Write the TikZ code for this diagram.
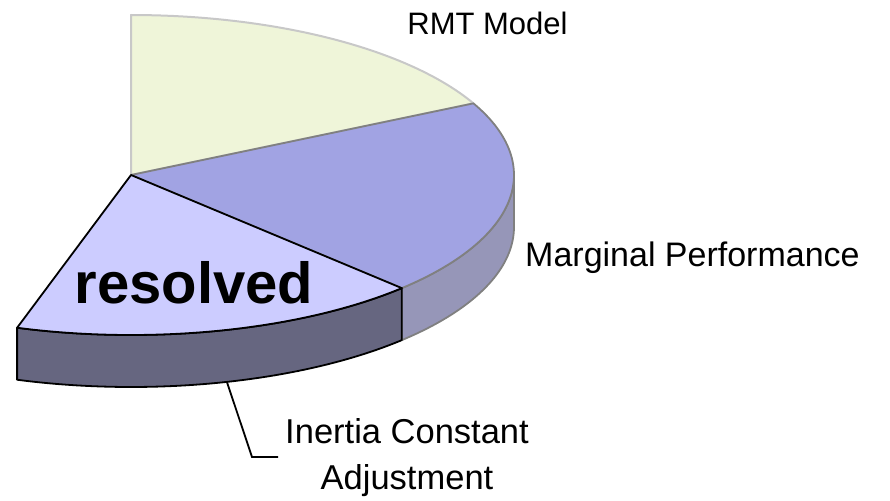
\documentclass[tikz,border=0pt]{standalone}
\usepackage{fontspec}
\setmainfont{Liberation Sans}
\begin{document}
\begin{tikzpicture}[x=1pt,y=-1pt,
  lbl/.style={inner sep=0pt, font=\fontsize{32}{46}\selectfont},
  rmtcol/.style={fill={rgb,255:red,239;green,245;blue,217}, draw={rgb,255:red,200;green,200;blue,200}, line width=2pt, line join=round},
  bluetop/.style={fill={rgb,255:red,161;green,163;blue,227}, draw={rgb,255:red,128;green,128;blue,128}, line width=1.8pt, line join=round},
  blueside/.style={fill={rgb,255:red,150;green,150;blue,184}, draw={rgb,255:red,128;green,128;blue,128}, line width=1.8pt, line join=round},
  restop/.style={fill={rgb,255:red,204;green,204;blue,255}, draw=black, line width=1.8pt, line join=round},
  resside/.style={fill={rgb,255:red,102;green,102;blue,128}, draw=black, line width=1.8pt, line join=round},
]
\useasboundingbox (0,0) rectangle (890,500);
\def\cx{131}\def\cy{175}\def\rx{383}\def\ry{160}\def\dd{52}
\coordinate (C) at (\cx,\cy);
% RMT slice
\draw[rmtcol] (C) -- plot[domain=90:26.6,samples=50] ({\cx+\rx*cos(\x)},{\cy-\ry*sin(\x)}) -- cycle;
% blue side
\draw[blueside] plot[domain=0:-45,samples=40] ({\cx+\rx*cos(\x)},{\cy-\ry*sin(\x)})
  -- plot[domain=-45:0,samples=40] ({\cx+\rx*cos(\x)},{\cy+\dd-\ry*sin(\x)}) -- cycle;
% blue top
\draw[bluetop] (C) -- plot[domain=26.6:-45,samples=60] ({\cx+\rx*cos(\x)},{\cy-\ry*sin(\x)}) -- cycle;
% resolved side
\draw[resside] plot[domain=-45:-107.3,samples=50] ({\cx+\rx*cos(\x)},{\cy-\ry*sin(\x)})
  -- plot[domain=-107.3:-45,samples=50] ({\cx+\rx*cos(\x)},{\cy+\dd-\ry*sin(\x)}) -- cycle;
% resolved top
\draw[restop] (C) -- plot[domain=-45:-107.3,samples=50] ({\cx+\rx*cos(\x)},{\cy-\ry*sin(\x)}) -- cycle;
% labels
\node[lbl, font=\fontsize{31}{40}\selectfont, anchor=base] (rmt) at (487.5,35) {RMT Model};
\node[lbl, font=\fontsize{34}{40}\selectfont, anchor=base west] (marg) at (525,266) {Marginal Performance};
\node[inner sep=0pt, font=\fontsize{58}{60}\selectfont\bfseries, anchor=base] (res) at (194,303) {resolved};
\node[lbl, font=\fontsize{34.5}{46}\selectfont, align=center, inner xsep=7pt] (inertia) at (407,458) {Inertia Constant\\Adjustment};
% leader
\coordinate (lead) at ({\cx+\rx*cos(-75.5)},{\cy+\dd-\ry*sin(-75.5)});
\coordinate (bend) at (252,457);
\draw[line width=1.8pt] (lead) -- (bend) -- (bend -| inertia.west);
\end{tikzpicture}
\end{document}
